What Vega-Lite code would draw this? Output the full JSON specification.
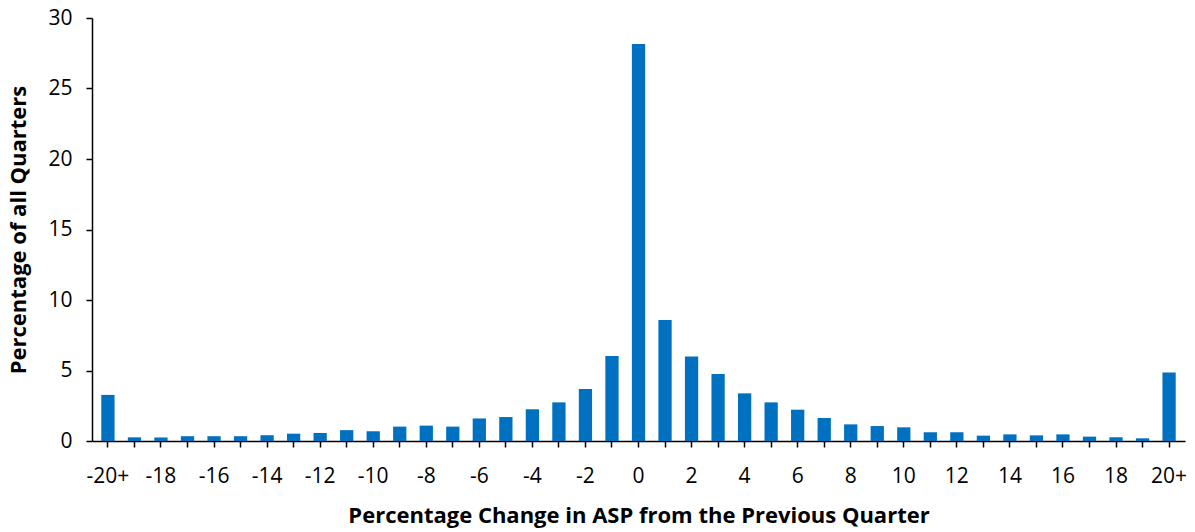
{
  "$schema": "https://vega.github.io/schema/vega-lite/v6.json",
  "autosize": {"type": "none"},
  "width": 1093,
  "height": 423,
  "padding": {"left": 92, "top": 18, "right": 10, "bottom": 91},
  "background": "white",
  "config": {
    "view": {"stroke": null},
    "font": "Open Sans",
    "axis": {"grid": false, "domainColor": "black", "tickColor": "black", "labelColor": "black", "titleColor": "black", "labelFont": "Open Sans", "titleFont": "Open Sans"}
  },
  "data": {
    "values": [
      {"change": "-20+", "pct": 3.27},
      {"change": "-19", "pct": 0.26},
      {"change": "-18", "pct": 0.25},
      {"change": "-17", "pct": 0.34},
      {"change": "-16", "pct": 0.34},
      {"change": "-15", "pct": 0.34},
      {"change": "-14", "pct": 0.41},
      {"change": "-13", "pct": 0.52},
      {"change": "-12", "pct": 0.57},
      {"change": "-11", "pct": 0.77},
      {"change": "-10", "pct": 0.69},
      {"change": "-9", "pct": 1.02},
      {"change": "-8", "pct": 1.09},
      {"change": "-7", "pct": 1.02},
      {"change": "-6", "pct": 1.6},
      {"change": "-5", "pct": 1.7},
      {"change": "-4", "pct": 2.25},
      {"change": "-3", "pct": 2.74},
      {"change": "-2", "pct": 3.69},
      {"change": "-1", "pct": 6.03},
      {"change": "0", "pct": 28.15},
      {"change": "1", "pct": 8.58},
      {"change": "2", "pct": 6.0},
      {"change": "3", "pct": 4.75},
      {"change": "4", "pct": 3.38},
      {"change": "5", "pct": 2.74},
      {"change": "6", "pct": 2.22},
      {"change": "7", "pct": 1.63},
      {"change": "8", "pct": 1.18},
      {"change": "9", "pct": 1.06},
      {"change": "10", "pct": 0.97},
      {"change": "11", "pct": 0.62},
      {"change": "12", "pct": 0.62},
      {"change": "13", "pct": 0.38},
      {"change": "14", "pct": 0.47},
      {"change": "15", "pct": 0.4},
      {"change": "16", "pct": 0.47},
      {"change": "17", "pct": 0.31},
      {"change": "18", "pct": 0.26},
      {"change": "19", "pct": 0.19},
      {"change": "20+", "pct": 4.85}
    ]
  },
  "mark": {"type": "bar", "color": "#0070C0"},
  "encoding": {
    "x": {
      "field": "change",
      "type": "nominal",
      "sort": null,
      "scale": {"paddingInner": 0.5, "paddingOuter": 0.35},
      "axis": {
        "title": "Percentage Change in ASP from the Previous Quarter",
        "titleFontSize": 22,
        "titleFontWeight": "bold",
        "titlePadding": 19,
        "labelAngle": 0,
        "labelFontSize": 21,
        "labelPadding": 18,
        "labelOverlap": false,
        "labelExpr": "(abs(toNumber(datum.value)) % 2 == 0 || indexof(datum.value, '+') >= 0) ? datum.label : ''",
        "tickSize": 6,
        "tickWidth": 1.5,
        "domainWidth": 1.5
      }
    },
    "y": {
      "field": "pct",
      "type": "quantitative",
      "scale": {"domain": [0, 30], "nice": false},
      "axis": {
        "title": "Percentage of all Quarters",
        "titleFontSize": 22,
        "titleFontWeight": "bold",
        "titlePadding": 17,
        "values": [0, 5, 10, 15, 20, 25, 30],
        "labelFontSize": 21,
        "labelPadding": 14,
        "tickSize": 6,
        "tickWidth": 1.5,
        "domainWidth": 1.5
      }
    }
  }
}
